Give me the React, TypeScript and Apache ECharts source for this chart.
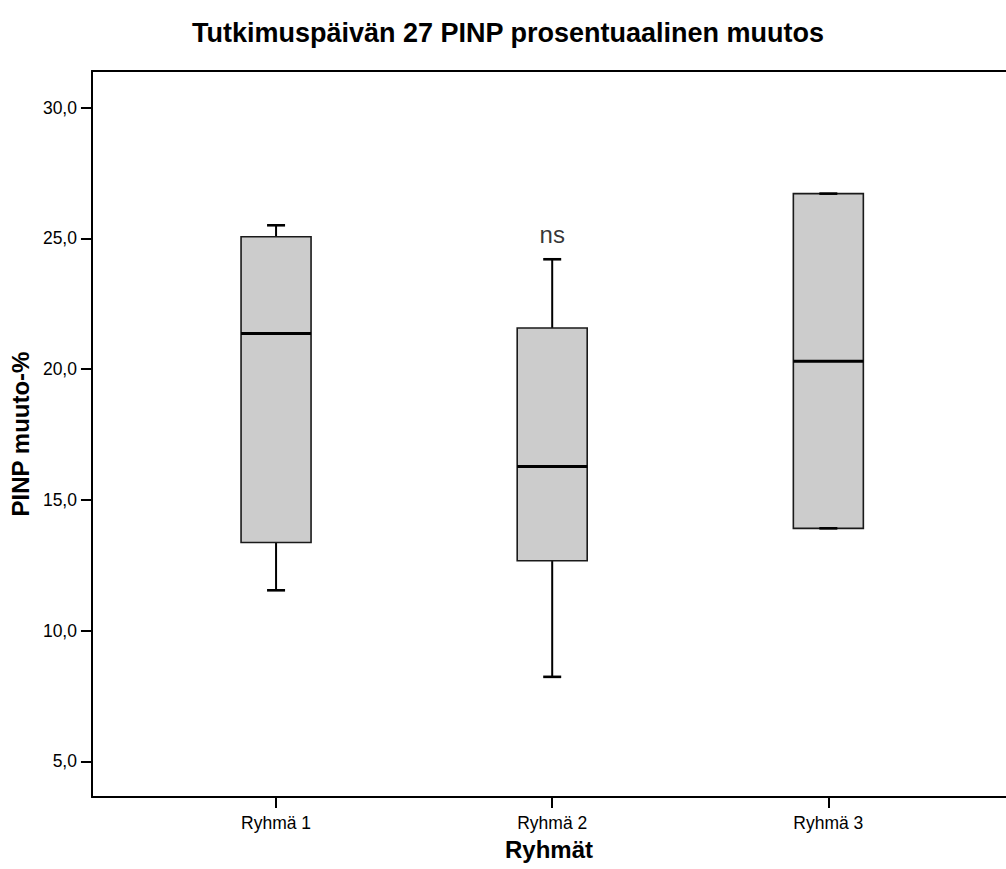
import React, { useEffect, useRef } from "react";
import * as echarts from "echarts";

const titleText = "Tutkimuspäivän 27 PINP prosentuaalinen muutos";
const categories = ["Ryhmä 1", "Ryhmä 2", "Ryhmä 3"];
const whiskerLow = [11.54, 8.23, 13.91];
const quartile1 = [13.37, 12.67, 13.91];
const medians = [21.36, 16.27, 20.3];
const quartile3 = [25.06, 21.57, 26.71];
const whiskerHigh = [25.5, 24.2, 26.71];
const yTicks = [5, 10, 15, 20, 25, 30];
const annotationGroup = [1];
const annotationValue = [25.13];
const annotationText = ["ns"];

const FONT = "'Liberation Sans', Arial, sans-serif";

export default function App() {
  const ref = useRef<HTMLDivElement>(null);
  useEffect(() => {
    if (!ref.current) return;
    const chart = echarts.init(ref.current, undefined, { renderer: "svg" });
    // groups sit at 2, 5, 8 on a 0..~10 position axis (SPSS-style spacing)
    const posOf = (i: number) => 3 * i + 2;
    const groupPos = categories.map((_, i) => posOf(i));

    const boxData = categories.map((_, i) => [
      posOf(i),
      whiskerLow[i],
      quartile1[i],
      medians[i],
      quartile3[i],
      whiskerHigh[i],
    ]);
    const annData = annotationGroup.map((g, k) => ({
      value: [posOf(g), annotationValue[k]],
      label: { formatter: annotationText[k] },
    }));

    chart.setOption({
      animation: false,
      textStyle: { fontFamily: FONT, color: "#000" },
      title: {
        text: titleText,
        left: 503,
        textAlign: "center",
        top: 14,
        textStyle: { fontFamily: FONT, fontSize: 27, fontWeight: "bold", color: "#000" },
      },
      grid: {
        left: 89,
        top: 71,
        right: 0,
        bottom: 72,
        show: false,
      },
      xAxis: [
        {
          type: "value",
          min: 0,
          max: 9.93,
          name: "Ryhmät",
          nameLocation: "middle",
          nameGap: 40,
          nameTextStyle: { fontFamily: FONT, fontSize: 24, fontWeight: "bold", color: "#000" },
          axisLine: { show: true, onZero: false, lineStyle: { color: "#000", width: 2 } },
          axisTick: { show: true, inside: false, length: 11, customValues: groupPos, lineStyle: { color: "#000", width: 2 } },
          axisLabel: {
            customValues: groupPos,
            margin: 17,
            fontSize: 17.5,
            color: "#000",
            fontFamily: FONT,
            formatter: (v: number) => categories[Math.round((v - 2) / 3)] ?? "",
          },
          splitLine: { show: false },
        },
        {
          type: "value",
          position: "top",
          min: 0,
          max: 9.93,
          axisLine: { show: true, onZero: false, lineStyle: { color: "#000", width: 2 } },
          axisTick: { show: false },
          axisLabel: { show: false },
          splitLine: { show: false },
        },
      ],
      yAxis: {
        type: "value",
        min: 3.635,
        max: 31.4,
        name: "PINP muuto-%",
        nameLocation: "middle",
        nameGap: 57,
        nameTextStyle: { fontFamily: FONT, fontSize: 24, fontWeight: "bold", color: "#000" },
        axisLine: { show: true, onZero: false, lineStyle: { color: "#000", width: 2 } },
        axisTick: { show: true, inside: false, length: 11, customValues: yTicks, lineStyle: { color: "#000", width: 2 } },
        axisLabel: {
          customValues: yTicks,
          margin: 15,
          fontSize: 17.5,
          color: "#000",
          fontFamily: FONT,
          formatter: (v: number) => v.toFixed(1).replace(".", ","),
        },
        splitLine: { show: false },
      },
      series: [
        {
          type: "custom",
          xAxisIndex: 0,
          data: boxData,
          encode: { x: 0, y: [1, 2, 3, 4, 5] },
          renderItem: (params: any, api: any) => {
            const x = api.value(0);
            const pLow = api.coord([x, api.value(1)]);
            const pQ1 = api.coord([x, api.value(2)]);
            const pMed = api.coord([x, api.value(3)]);
            const pQ3 = api.coord([x, api.value(4)]);
            const pHigh = api.coord([x, api.value(5)]);
            const cx = pMed[0];
            const halfW = 35;
            const capHalf = 9;
            const line = (x1: number, y1: number, x2: number, y2: number, w: number) => ({
              type: "line",
              shape: { x1, y1, x2, y2 },
              style: { stroke: "#000", lineWidth: w },
            });
            return {
              type: "group",
              children: [
                line(cx, pHigh[1], cx, pQ3[1], 2),
                line(cx, pQ1[1], cx, pLow[1], 2),
                {
                  type: "rect",
                  shape: { x: cx - halfW, y: pQ3[1], width: 2 * halfW, height: pQ1[1] - pQ3[1] },
                  style: { fill: "#cccccc", stroke: "#1a1a1a", lineWidth: 1.6 },
                },
                line(cx - halfW, pMed[1], cx + halfW, pMed[1], 3),
                line(cx - capHalf, pHigh[1], cx + capHalf, pHigh[1], 2.6),
                line(cx - capHalf, pLow[1], cx + capHalf, pLow[1], 2.6),
              ],
            };
          },
        },
        {
          type: "scatter",
          xAxisIndex: 0,
          data: annData,
          symbolSize: 1,
          itemStyle: { color: "rgba(0,0,0,0)" },
          label: { show: true, position: "inside", fontSize: 24, color: "#000", fontFamily: FONT },
        },
      ],
    });
    return () => chart.dispose();
  }, []);
  return (
    <div
      ref={ref}
      style={{ position: "absolute", left: 0, top: 0, width: 1006, height: 869, background: "#fff" }}
    />
  );
}
